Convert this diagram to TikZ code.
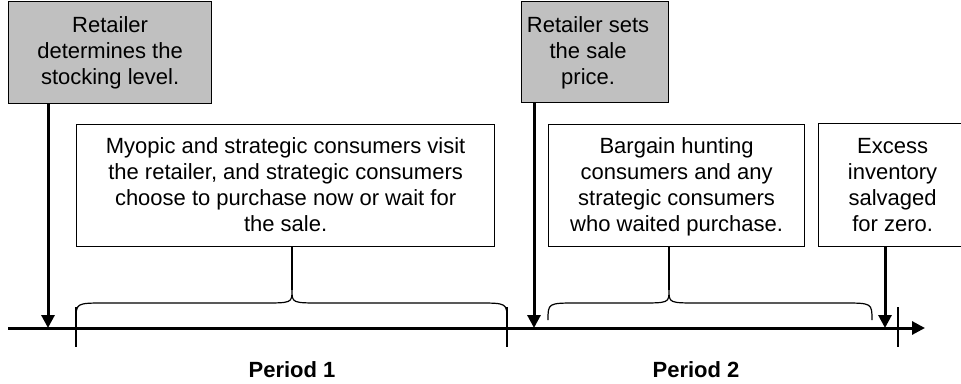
\documentclass[tikz,border=0pt]{standalone}
\usepackage{fontspec}
\setmainfont{Liberation Sans}
\usetikzlibrary{arrows.meta}
\definecolor{boxgray}{RGB}{192,192,192}
% boxed text: width, height, top padding, shift-left amount, lines
\newcommand{\bxtext}[5]{\parbox[c][#2][t]{#1}{\centering\rightskip=#4 plus 1fil\relax
  \vspace*{#3}\strut #5}}
\begin{document}
\begin{tikzpicture}[x=1pt,y=-1pt,
  box/.style={draw, line width=1.2pt, inner sep=0pt, anchor=north west,
    font=\fontsize{22}{26}\selectfont},
  graybox/.style={box, fill=boxgray},
  axisline/.style={line width=3pt, -{Triangle[length=13pt,width=13pt]}},
  evarrow/.style={line width=3pt, -{Triangle[length=13pt,width=13pt]}},
  thinline/.style={line width=1.2pt},
  period/.style={anchor=base, font=\fontsize{22}{26}\selectfont\bfseries}]
\useasboundingbox (0,0) rectangle (961,383);

% boxes
\node[graybox] (b1) at (8,1)
  {\bxtext{203pt}{102pt}{12.5pt}{0pt}{Retailer\\determines the\\stocking level.}};
\node[graybox] (b2) at (521,1)
  {\bxtext{147pt}{101pt}{12.5pt}{14pt}{Retailer sets\\the sale\\price.}};
\node[box] (b3) at (76,124)
  {\bxtext{418pt}{122pt}{11pt}{0pt}{Myopic and strategic consumers visit\\the retailer, and strategic consumers\\choose to purchase now or wait for\\the sale.}};
\node[box] (b4) at (548,124)
  {\bxtext{256pt}{122pt}{11pt}{0pt}{Bargain hunting\\consumers and any\\strategic consumers\\who waited purchase.}};
\node[box] (b5) at (818,123)
  {\bxtext{148pt}{123pt}{11.5pt}{0pt}{Excess\\inventory\\salvaged\\for zero.}};

% axis
\coordinate (a0) at (8,328);
\coordinate (a1) at (925,328);
\draw[axisline] (a0) -- (a1);

% ticks
\coordinate (k1t) at (76,307);  \coordinate (k1b) at (76,347);
\coordinate (k2t) at (507,307); \coordinate (k2b) at (507,347);
\coordinate (k3t) at (898,307); \coordinate (k3b) at (898,347);
\draw[thinline] (k1t) -- (k1b);
\draw[thinline] (k2t) -- (k2b);
\draw[thinline] (k3t) -- (k3b);

% event arrows
\coordinate (t1) at (48,328);
\coordinate (t2) at (534,328);
\coordinate (t3) at (885,328);
\draw[evarrow] (b1.south -| t1) -- (t1);
\draw[evarrow] (b2.south -| t2) -- (t2);
\draw[evarrow] (b5.south -| t3) -- (t3);

% braces
\coordinate (tip1) at (292,290);
\coordinate (tip2) at (669,290);
\draw[thinline] (76,320) .. controls (76,303) .. (106,303) -- (262,303)
  .. controls (292,303) .. (tip1) .. controls (292,303) .. (322,303) -- (477,303)
  .. controls (507,303) .. (507,320);
\draw[thinline] (548,320) .. controls (548,303) .. (578,303) -- (639,303)
  .. controls (669,303) .. (tip2) .. controls (669,303) .. (699,303) -- (842,303)
  .. controls (872,303) .. (872,320);
\draw[thinline] (b3.south -| tip1) -- (tip1);
\draw[thinline] (b4.south -| tip2) -- (tip2);

% period labels
\node[period] (p1) at (292,377) {Period 1};
\node[period] (p2) at (696,377) {Period 2};
\end{tikzpicture}
\end{document}
